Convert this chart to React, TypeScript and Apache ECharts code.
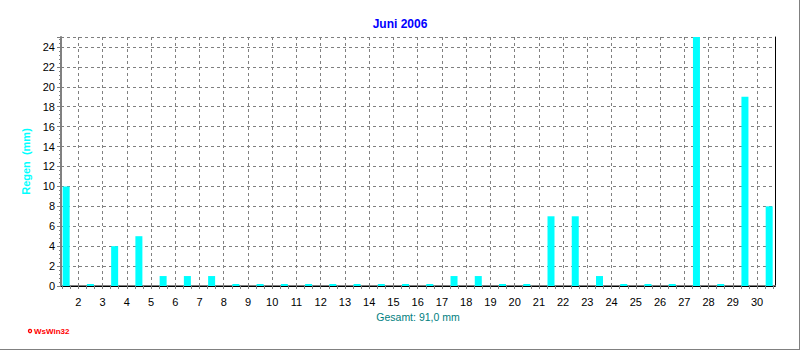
import React, { useEffect, useRef } from "react";
import * as echarts from "echarts";

// Days of June 2006
const days = [1, 2, 3, 4, 5, 6, 7, 8, 9, 10, 11, 12, 13, 14, 15, 16, 17, 18, 19, 20, 21, 22, 23, 24, 25, 26, 27, 28, 29, 30];
// Daily rain in mm
const rain = [10, 0, 4, 5, 1, 1, 1, 0, 0, 0, 0, 0, 0, 0, 0, 0, 1, 1, 0, 0, 7, 7, 1, 0, 0, 0, 25, 0, 19, 8];
// Tick labels shown on the x axis (placed at the left boundary of each day)
const xTickLabels = ["2", "3", "4", "5", "6", "7", "8", "9", "10", "11", "12", "13", "14", "15", "16", "17", "18", "19", "20", "21", "22", "23", "24", "25", "26", "27", "28", "29", "30"];
const yTicks = [0, 2, 4, 6, 8, 10, 12, 14, 16, 18, 20, 22, 24];

const title = "Juni 2006";
const yName = "Regen  (mm)";

export default function App() {
  const ref = useRef<HTMLDivElement>(null);
  useEffect(() => {
    if (!ref.current) return;
    const chart = echarts.init(ref.current, null, { renderer: "svg" });
    const total = rain.reduce((a, b) => a + b, 0);
    const xName = "Gesamt: " + total.toFixed(1).replace(".", ",") + " mm";
    const xMin = 0.287;
    const xMax = 29.74;
    const labelPos = xTickLabels.map((_, i) => i + 1);
    const tickPos: number[] = [];
    for (let k = 1; k / 3 < xMax; k++) tickPos.push(k / 3);
    const font = "Arial, 'Liberation Sans', sans-serif";
    const gray = "#808080";
    chart.setOption({
      animation: false,
      title: {
        text: title,
        left: "center",
        top: 13,
        textStyle: { color: "#0000ff", fontSize: 12, fontWeight: "bold", fontFamily: "'Liberation Sans Narrow', Arial, sans-serif" },
      },
      grid: { left: 61, right: 25, top: 37, bottom: 64, containLabel: false },
      xAxis: [
        {
          type: "value",
          min: xMin,
          max: xMax,
          position: "bottom",
          name: xName,
          nameLocation: "middle",
          nameGap: 25,
          nameTextStyle: { color: "#008080", fontSize: 10.5, fontFamily: font },
          axisLine: { show: true, lineStyle: { color: gray, width: 2 } },
          axisTick: { show: true, customValues: tickPos, length: 3, lineStyle: { color: gray } },
          axisLabel: {
            show: true,
            customValues: labelPos,
            margin: 10,
            color: "#000",
            fontSize: 11,
            fontFamily: font,
            formatter: (v: number) => xTickLabels[Math.round(v) - 1] ?? "",
          },
          splitLine: { show: false },
        },
        {
          type: "value",
          min: xMin,
          max: xMax,
          position: "top",
          axisLine: { show: true, lineStyle: { color: "#000", width: 1 } },
          axisTick: { show: false },
          axisLabel: { show: false },
          splitLine: { show: false },
        },
      ],
      yAxis: [
        {
          type: "value",
          min: 0,
          max: 25,
          interval: 2,
          name: yName,
          nameLocation: "middle",
          nameGap: 22,
          nameRotate: 90,
          nameTextStyle: { color: "#00ffff", fontSize: 11, fontWeight: "bold", fontFamily: font },
          axisLine: { show: true, lineStyle: { color: gray, width: 2 } },
          axisTick: { show: true, length: 4, lineStyle: { color: gray } },
          minorTick: { show: true, splitNumber: 5, length: 2, lineStyle: { color: gray } },
          axisLabel: {
            color: "#000",
            fontSize: 11,
            fontFamily: font,
            margin: 6,
            showMaxLabel: false,
            formatter: (v: number) => (yTicks.includes(v) ? String(v) : ""),
          },
          splitLine: { show: true, lineStyle: { color: gray, type: [3, 3], width: 1 } },
        },
        {
          type: "value",
          min: 0,
          max: 25,
          position: "right",
          axisLine: { show: true, lineStyle: { color: "#000", width: 1 } },
          axisTick: { show: false },
          axisLabel: { show: false },
          splitLine: { show: false },
        },
      ],
      series: [
        {
          type: "bar",
          xAxisIndex: 0,
          yAxisIndex: 0,
          data: days.map((d, i) => [d - 0.5, rain[i]]),
          barWidth: 7,
          barMinHeight: 2,
          itemStyle: { color: "#00ffff" },
          z: 3,
          markLine: {
            silent: true,
            symbol: "none",
            label: { show: false },
            lineStyle: { color: gray, type: [3, 3], width: 1 },
            emphasis: { disabled: true },
            data: labelPos.map((x) => ({ xAxis: x })),
          },
        },
      ],
      graphic: [
        { type: "circle", shape: { cx: 30, cy: 331, r: 2.2 }, style: { fill: "#ff0000" } },
        { type: "circle", shape: { cx: 30, cy: 331, r: 0.8 }, style: { fill: "#ffffff" } },
        { type: "text", x: 34, y: 331, style: { text: "WsWin32", fill: "#ff0000", font: "bold 8px " + font, textVerticalAlign: "middle" } },
        { type: "line", shape: { x1: 0, y1: 349.5, x2: 800, y2: 349.5 }, style: { stroke: gray, lineWidth: 1 } },
        { type: "line", shape: { x1: 799.5, y1: 0, x2: 799.5, y2: 350 }, style: { stroke: gray, lineWidth: 1 } },
      ],
    });
    return () => chart.dispose();
  }, []);
  return <div ref={ref} style={{ position: "fixed", left: 0, top: 0, width: 800, height: 350, background: "#fff" }} />;
}
